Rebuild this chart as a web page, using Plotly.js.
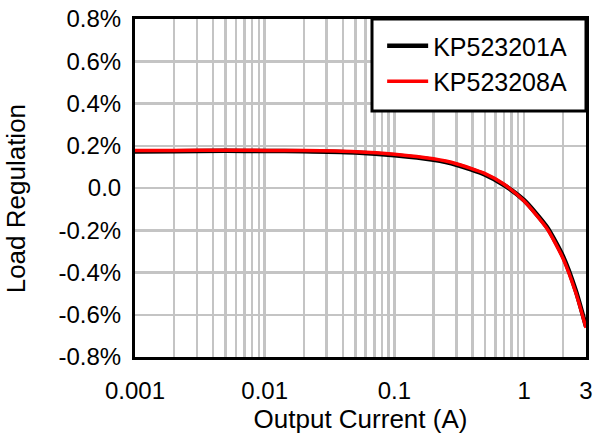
<!DOCTYPE html>
<html>
<head>
<meta charset="utf-8">
<script src="https://cdn.plot.ly/plotly-3.0.1.min.js"></script>
<style>html,body{margin:0;padding:0;background:#fff;}#chart{width:596px;height:434px;}</style>
</head>
<body>
<div id="chart"></div>
<script>
// Output current (A)
const current = [0.001, 0.002, 0.005, 0.01, 0.02, 0.05, 0.1, 0.2, 0.3, 0.5, 0.7, 1, 1.5, 2, 2.5, 3];
// Load regulation (%)
const kp523201A = [0.173, 0.174, 0.176, 0.175, 0.174, 0.168, 0.155, 0.133, 0.110, 0.063, 0.014, -0.058, -0.185, -0.325, -0.485, -0.655];
const kp523208A = [0.177, 0.178, 0.179, 0.178, 0.177, 0.172, 0.160, 0.138, 0.115, 0.068, 0.018, -0.062, -0.192, -0.335, -0.495, -0.662];
const seriesNames = ['KP523201A', 'KP523208A'];

// Axis ticks
const xTickVals = [0.001,0.002,0.003,0.004,0.005,0.006,0.007,0.008,0.009,
                   0.01,0.02,0.03,0.04,0.05,0.06,0.07,0.08,0.09,
                   0.1,0.2,0.3,0.4,0.5,0.6,0.7,0.8,0.9,
                   1,2,3];
const xLabeled = {0.001:'0.001', 0.01:'0.01', 0.1:'0.1', 1:'1', 3:'3'};
const yTickVals = [-0.8,-0.6,-0.4,-0.2,0,0.2,0.4,0.6,0.8];
const yTickText = ['-0.8%','-0.6%','-0.4%','-0.2%','0.0','0.2%','0.4%','0.6%','0.8%'];

const xTickText = xTickVals.map(v => xLabeled[v] || '');

const fam = '"Liberation Sans", Arial, sans-serif';
const tickFont = {family: fam, size: 24, color: '#000'};

const traces = [
  {x: current, y: kp523201A, name: seriesNames[0], type: 'scatter', mode: 'lines',
   line: {color: '#000000', width: 4.5, shape: 'spline', smoothing: 0.6}},
  {x: current, y: kp523208A, name: seriesNames[1], type: 'scatter', mode: 'lines',
   line: {color: '#ff0000', width: 3.5, shape: 'spline', smoothing: 0.6}}
];

const layout = {
  width: 596, height: 434,
  margin: {l: 135, r: 10, t: 19, b: 77, pad: 0},
  paper_bgcolor: '#fff', plot_bgcolor: '#fff',
  font: tickFont,
  showlegend: true,
  xaxis: {
    type: 'log',
    range: [Math.log10(0.001), Math.log10(3)],
    tickmode: 'array', tickvals: xTickVals, ticktext: xTickText,
    showgrid: true, gridcolor: '#c4c4c4', gridwidth: 2.5,
    showline: true, linecolor: '#000', linewidth: 3, mirror: true,
    ticks: '', zeroline: false, ticklabelstandoff: 10,
    tickfont: tickFont,
    title: {text: 'Output Current (A)', font: {family: fam, size: 26, color: '#000'}, standoff: 1}
  },
  yaxis: {
    range: [-0.8, 0.8],
    tickmode: 'array', tickvals: yTickVals, ticktext: yTickText,
    showgrid: true, gridcolor: '#c4c4c4', gridwidth: 2.5,
    showline: true, linecolor: '#000', linewidth: 3, mirror: true,
    ticks: '', zeroline: false, ticklabelstandoff: 6,
    tickfont: tickFont
  },
  annotations: [{
    text: 'Load Regulation', textangle: -90, showarrow: false,
    xref: 'paper', yref: 'paper', x: -0.262, y: 0.469,
    xanchor: 'center', yanchor: 'middle',
    font: {family: fam, size: 26, color: '#000'}
  }],
  shapes: [{
    type: 'rect', xref: 'paper', yref: 'paper',
    x0: 0.5255, x1: 1, y0: 0.728, y1: 1,
    line: {color: '#000', width: 3}, fillcolor: '#fff', layer: 'above'
  }],
  legend: {
    x: 0.548, y: 0.988, xanchor: 'left', yanchor: 'top',
    bgcolor: 'rgba(0,0,0,0)', borderwidth: 0,
    font: {family: fam, size: 25, color: '#000'}, itemwidth: 41, tracegroupgap: 0
  }
};

Plotly.newPlot('chart', traces, layout, {staticPlot: true, displayModeBar: false});
</script>
</body>
</html>
